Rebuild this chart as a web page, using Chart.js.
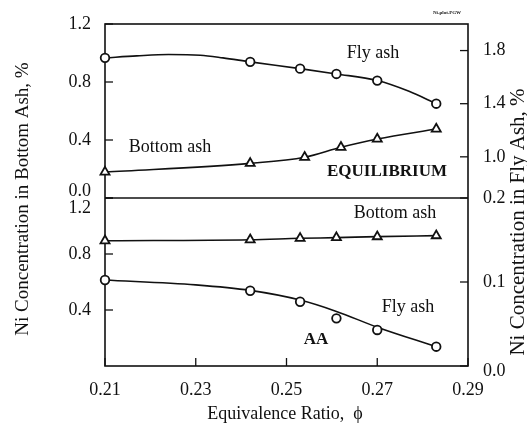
<!DOCTYPE html>
<html>
<head>
<meta charset="utf-8">
<script src="https://cdn.jsdelivr.net/npm/chart.js@4/dist/chart.umd.min.js"></script>
<style>
  html, body { margin: 0; padding: 0; background: #fff; }
  #wrap { width: 527px; height: 427px; position: relative; }
</style>
</head>
<body>
<div id="wrap"><canvas id="c" width="527" height="427"></canvas></div>
<script>
// Equivalence ratio at the measured points
const phi = [0.21, 0.242, 0.253, 0.261, 0.270, 0.283];
const phiEqBottom = [0.21, 0.242, 0.254, 0.262, 0.270, 0.283];

// EQUILIBRIUM panel
const eqFlyAsh = [1.745, 1.715, 1.664, 1.624, 1.574, 1.40];          // right axis
const eqFlyFitPhi = [0.21, 0.217, 0.224, 0.231, 0.236, 0.242, 0.253, 0.261, 0.270, 0.277, 0.283];
const eqFlyFit = [1.745, 1.760, 1.770, 1.765, 1.745, 1.715, 1.664, 1.624, 1.574, 1.493, 1.40];
const eqBottomAsh = [0.179, 0.239, 0.281, 0.350, 0.407, 0.476];       // left axis

// AA panel
const aaBottomAsh = [0.895, 0.902, 0.912, 0.917, 0.924, 0.931];      // left axis
const aaFlyAsh = [0.1024, 0.0896, 0.0765, 0.0567, 0.0429, 0.0230];  // right axis
const aaFlyFitPhi = [0.21, 0.23, 0.242, 0.253, 0.261, 0.270, 0.283];
const aaFlyFit = [0.1024, 0.0966, 0.0900, 0.0785, 0.0650, 0.0462, 0.0230];

// Tick values
const phiTicks = [0.21, 0.23, 0.25, 0.27, 0.29];
const bottomAshTicks = [0.0, 0.4, 0.8, 1.2];
const eqFlyTicks = [1.0, 1.4, 1.8];
const aaFlyTicks = [0.0, 0.1, 0.2];

const SERIF = "'Liberation Serif', 'Times New Roman', serif";
const INK = '#111';
const tickFont = { family: SERIF, size: 18 };

const pts = (xs, ys) => xs.map((x, i) => ({ x, y: ys[i] }));
const setTicks = vals => scale => { scale.ticks = vals.map(v => ({ value: v })); };

function yAxis(pos, stack, weight, min, max, ticks, cb, lineHeight) {
  return {
    type: 'linear', position: pos, stack, stackWeight: weight, min, max,
    afterBuildTicks: setTicks(ticks),
    afterFit: s => {
      s.width = pos === 'left' ? 105 : 59;
      // edge labels may overhang the panel; keep the plot box fixed
      s.paddingTop = 0;
      s.paddingBottom = 0;
    },
    grid: { display: false, drawTicks: false },
    border: { display: false },
    ticks: { padding: pos === 'left' ? 14 : 15, color: INK, font: { ...tickFont, lineHeight }, callback: cb }
  };
}

const markerCommon = {
  showLine: false, borderColor: INK, backgroundColor: '#fff',
  pointRadius: 4.3, pointBorderWidth: 1.8, clip: false, order: 1
};
const triCommon = {
  borderColor: INK, backgroundColor: '#fff', borderWidth: 1.6,
  pointStyle: 'triangle', pointRadius: 5.2, pointBorderWidth: 1.8,
  cubicInterpolationMode: 'monotone', clip: false, order: 1
};
const fitCommon = {
  borderColor: INK, borderWidth: 1.6, pointRadius: 0,
  cubicInterpolationMode: 'monotone', clip: false, order: 2
};

function line(ctx, x1, y1, x2, y2) {
  ctx.beginPath(); ctx.moveTo(x1, y1); ctx.lineTo(x2, y2); ctx.stroke();
}

// Box, panel divider and inward tick marks
const frame = {
  id: 'frame',
  beforeDatasetsDraw(chart) {
    const { ctx, chartArea: a, scales } = chart;
    ctx.save();
    ctx.strokeStyle = INK;
    ctx.lineWidth = 1.6;
    ctx.strokeRect(a.left, a.top, a.right - a.left, a.bottom - a.top);
    line(ctx, a.left, scales.yEqL.bottom, a.right, scales.yEqL.bottom);
    const len = 8;
    ctx.lineWidth = 1.3;
    for (const id of ['yEqL', 'yAaL']) {
      const s = scales[id];
      s.ticks.forEach(t => { const p = s.getPixelForValue(t.value); line(ctx, a.left, p, a.left + len, p); });
    }
    for (const id of ['yEqR', 'yAaR']) {
      const s = scales[id];
      s.ticks.forEach(t => { const p = s.getPixelForValue(t.value); line(ctx, a.right - len, p, a.right, p); });
    }
    const sx = scales.x;
    sx.ticks.forEach(t => { const p = sx.getPixelForValue(t.value); line(ctx, p, a.bottom, p, a.bottom - len); });
    ctx.restore();
  }
};

// Curve labels and axis titles
const labels = {
  id: 'labels',
  afterDraw(chart) {
    const { ctx } = chart;
    ctx.save();
    ctx.fillStyle = INK;
    ctx.textAlign = 'center';
    ctx.textBaseline = 'middle';
    const put = (txt, x, y, font) => { ctx.font = font; ctx.fillText(txt, x, y); };
    const reg = `18px ${SERIF}`, bold = `bold 17px ${SERIF}`;
    put('Fly ash', 373, 53, reg);
    put('Bottom ash', 170, 147, reg);
    put('EQUILIBRIUM', 387, 172, bold);
    put('Bottom ash', 395, 213, reg);
    put('Fly ash', 408, 307, reg);
    put('AA', 316, 340, bold);
    put('Equivalence Ratio,  \u03D5', 285, 414, `18px ${SERIF}`);
    put('Ni-plot.PGW', 447, 13, `bold 5px ${SERIF}`);
    const vert = (txt, x, y, size) => {
      ctx.save(); ctx.translate(x, y); ctx.rotate(-Math.PI / 2);
      ctx.font = `${size}px ${SERIF}`; ctx.fillText(txt, 0, 0); ctx.restore();
    };
    vert('Ni Concentration in Bottom Ash, %', 23, 199, 19);
    vert('Ni Concentration in Fly Ash, %', 518, 222, 21);
    ctx.restore();
  }
};

new Chart(document.getElementById('c'), {
  type: 'line',
  data: {
    datasets: [
      { ...fitCommon, data: pts(eqFlyFitPhi, eqFlyFit), yAxisID: 'yEqR' },
      { ...markerCommon, pointStyle: 'circle', data: pts(phi, eqFlyAsh), yAxisID: 'yEqR' },
      { ...triCommon, data: pts(phiEqBottom, eqBottomAsh), yAxisID: 'yEqL' },
      { ...triCommon, data: pts(phi, aaBottomAsh), yAxisID: 'yAaL' },
      { ...fitCommon, data: pts(aaFlyFitPhi, aaFlyFit), yAxisID: 'yAaR' },
      { ...markerCommon, pointStyle: 'circle', data: pts(phi, aaFlyAsh), yAxisID: 'yAaR' }
    ]
  },
  options: {
    responsive: false,
    animation: false,
    devicePixelRatio: 1,
    layout: { padding: { top: 24, left: 0, right: 0, bottom: 0 } },
    plugins: { legend: { display: false }, tooltip: { enabled: false }, title: { display: false } },
    scales: {
      x: {
        type: 'linear', position: 'bottom', min: 0.21, max: 0.29,
        afterBuildTicks: setTicks(phiTicks),
        afterFit: s => { s.height = 61; },
        grid: { display: false, drawTicks: false },
        border: { display: false },
        ticks: { padding: 13, color: INK, font: tickFont, callback: v => v.toFixed(2) }
      },
      yAaL: yAxis('left', 'L', 168, 0, 1.2, bottomAshTicks,
        v => v === 0 ? null : (Math.abs(v - 1.2) < 1e-9 ? ['', '1.2'] : v.toFixed(1)), 1.1),
      yEqL: yAxis('left', 'L', 174, 0, 1.2, bottomAshTicks,
        v => v === 0 ? ['0.0', ''] : v.toFixed(1), 0.75),
      yEqR: yAxis('right', 'R', 174, 0.69, 2.0, eqFlyTicks, v => v.toFixed(1), 1.2),
      yAaR: yAxis('right', 'R', 168, 0, 0.2, aaFlyTicks,
        v => v === 0 ? ['', '0.0'] : v.toFixed(1), 0.55)
    }
  },
  plugins: [frame, labels]
});
</script>
</body>
</html>
